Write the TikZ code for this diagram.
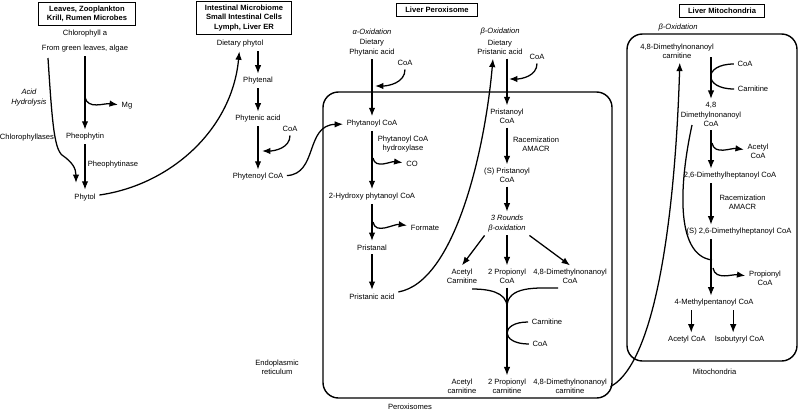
\documentclass[tikz,border=0pt]{standalone}
\usepackage{fontspec}
\setmainfont{Liberation Sans}
\usepackage{tikz}
\usetikzlibrary{arrows.meta, positioning}
\newcommand{\dfont}{\fontsize{5.4}{6.5}\selectfont}
\tikzstyle{hdr} = [draw, rectangle, line width=0.6pt, font=\dfont\bfseries, inner xsep=6pt, inner ysep=2.5pt]
\tikzstyle{ital} = [font=\dfont\itshape]
\tikzstyle{arr} = [->, line width=0.9pt]
\tikzstyle{ln} = [line width=0.9pt]
\tikzstyle{cell} = [line width=1pt, rounded corners=11pt]

\begin{document}
\begin{tikzpicture}[x=0.025cm, y=-0.025cm, >={Latex[length=6pt,width=4.6pt]},
    every node/.style={font=\dfont, align=center, inner sep=2.5pt}]
    \useasboundingbox (0,0) rectangle (800,410);
    \draw [cell] (323,92) rectangle (612,398);
    \draw [cell] (627,34) rectangle (797,361);

    \node [hdr] (leaves) at (87,14) {Leaves, Zooplankton\\Krill, Rumen Microbes};
    \node [hdr] (intest) at (244,18) {Intestinal Microbiome\\Small Intestinal Cells\\Lymph, Liver ER};
    \node [hdr] (lperox) at (437,10) {Liver Peroxisome};
    \node [hdr] (lmito) at (722,11) {Liver Mitochondria};

    \node [] (chl) at (85,34) {Chlorophyll a};
    \node [below of=chl, node distance=0.375cm] (fgl) {From green leaves, algae};
    \node [below of=fgl, node distance=2.2cm] (pheo) {Pheophytin};
    \node [below of=pheo, node distance=1.5cm] (phytol) {Phytol};
    \node [] (mg) at (127,106) {Mg};
    \node [ital] (acid) at (29,97.5) {Acid\\Hydrolysis};
    \node [] (chlase) at (27,138) {Chlorophyllases};
    \node [] (pase) at (113,165) {Pheophytinase};
    \coordinate (ah1) at (48,58);
    \coordinate (ah2) at (76,183);
    \draw [arr] (ah1) .. controls (52,120) and (54,148) .. (62,155) .. controls (72,162) and (76,168) .. (ah2);
    \draw [arr] (fgl) -- (pheo);
    \coordinate (mgb) at (85,97);
    \draw [arr] (mgb) to[out=-80, in=172] (mg);
    \draw [arr] (pheo) -- (phytol);
    \node [] (dphytol) at (240,44) {Dietary phytol};
    \draw [arr] (phytol) .. controls (170,185) and (232,130) .. (dphytol);

    \node [] (phytenal) at (258,81) {Phytenal};
    \node [below of=phytenal, node distance=0.95cm] (phytenic) {Phytenic acid};
    \node [below of=phytenic, node distance=1.45cm] (phytenoyl) {Phytenoyl CoA};
    \node [] (coa1) at (290,129) {CoA};
    \draw [arr] (dphytol.south -| phytenal) -- (phytenal);
    \draw [arr] (phytenal) -- (phytenic);
    \draw [arr] (phytenic) -- (phytenoyl);
    \coordinate (cb1) at (262,151);
    \draw [arr] (coa1) to[out=-90, in=0] (cb1);
    \node [] (er) at (277,367.5) {Endoplasmic\\reticulum};

    \node [] (dphy) at (372,47.5) {Dietary\\Phytanic acid};
    \node [ital, above of=dphy, node distance=0.4cm] (aox) {α-Oxidation};
    \node [below of=dphy, node distance=1.9cm] (phytanoyl) {Phytanoyl CoA};
    \node [below of=phytanoyl, node distance=1.825cm] (hydroxyp) {2-Hydroxy phytanoyl CoA};
    \node [below of=hydroxyp, node distance=1.275cm] (pristanal) {Pristanal};
    \node [below of=pristanal, node distance=1.225cm] (pristanic) {Pristanic acid};
    \node [] (coa2) at (405,63) {CoA};
    \node [] (hydrox) at (403,144) {Phytanoyl CoA\\hydroxylase};
    \node [] (co) at (412,164) {CO};
    \node [] (formate) at (425,228) {Formate};
    \draw [arr] (phytenoyl) .. controls (318,174) and (305,125) .. (phytanoyl);
    \draw [arr] (dphy) -- (phytanoyl);
    \coordinate (cb2) at (375,86);
    \draw [arr] (coa2) to[out=-90, in=0] (cb2);
    \draw [arr] (phytanoyl) -- (hydroxyp);
    \coordinate (cob) at (373,158);
    \draw [arr] (cob) to[out=-80, in=172] (co);
    \draw [arr] (hydroxyp) -- (pristanal);
    \coordinate (fb) at (373,222);
    \draw [arr] (fb) to[out=-80, in=172] (formate);
    \draw [arr] (pristanal) -- (pristanic);

    \node [] (dpri) at (500,47.5) {Dietary\\Pristanic acid};
    \node [ital, above of=dpri, node distance=0.4cm] (box) {β-Oxidation};
    \node [] (coa3) at (537,57) {CoA};
    \node [] (pristanoyl) at (507,116.5) {Pristanoyl\\CoA};
    \node [] (racem1) at (536,144.5) {Racemization\\AMACR};
    \node [below of=pristanoyl, node distance=1.475cm] (spri) {(S) Pristanoyl\\CoA};
    \node [ital, below of=spri, node distance=1.2cm] (rounds) {3 Rounds\\β-oxidation};
    \node [below of=rounds, node distance=1.325cm] (prop2) {2 Propionyl\\CoA};
    \node [left of=prop2, node distance=1.125cm] (acar1) {Acetyl\\Carnitine};
    \node [right of=prop2, node distance=1.575cm] (dmn1) {4,8-Dimethylnonanoyl\\CoA};
    \node [below of=prop2, node distance=2.75cm] (prop3) {2 Propionyl\\carnitine};
    \node [left of=prop3, node distance=1.125cm] (acar2) {Acetyl\\carnitine};
    \node [right of=prop3, node distance=1.575cm] (dmn2) {4,8-Dimethylnonanoyl\\carnitine};
    \node [] (carn1) at (547,322) {Carnitine};
    \node [] (coa4) at (540,344) {CoA};
    \node [] (perox) at (410,407) {Peroxisomes};
    \draw [arr] (pristanic) .. controls (455,282) and (485,150) .. ([xshift=-5pt]dpri.south);
    \draw [arr] (dpri.south -| pristanoyl) -- (pristanoyl);
    \coordinate (cb3) at (509,79);
    \draw [arr] (coa3) to[out=-90, in=0] (cb3);
    \draw [arr] (pristanoyl) -- (spri);
    \draw [arr] (spri) -- (rounds);
    \draw [arr] (rounds.south west) -- (acar1.north);
    \draw [arr] (rounds) -- (prop2);
    \draw [arr] (rounds.south east) -- (dmn1.north);
    \coordinate (mg1) at (472,289);
    \coordinate (mg2) at (558,288);
    \coordinate (mj) at (507,307);
    \draw [ln] (mg1) to[out=0, in=90] (mj);
    \draw [ln] (mg2) to[out=180, in=90] (mj);
    \draw [arr] (prop2) -- (prop3);
    \draw [ln] (carn1.west) .. controls (500,322) and (500,344) .. (coa4.west);

    \node [ital] (mbox) at (678,28) {β-Oxidation};
    \node [] (mcarn) at (677,51.5) {4,8-Dimethylnonanoyl\\carnitine};
    \node [] (mcoa1) at (745,64) {CoA};
    \node [] (mcarnt) at (753,89) {Carnitine};
    \node [] (mdmn) at (711,114.5) {4,8\\Dimethylnonanoyl\\CoA};
    \node [] (macoa) at (758,151.5) {Acetyl\\CoA};
    \node [] (mdmh) at (730,176) {2,6-Dimethylheptanoyl CoA};
    \node [] (racem2) at (742.5,202.5) {Racemization\\AMACR};
    \node [] (msdmh) at (739,232) {(S) 2,6-Dimethylheptanoyl CoA};
    \node [] (mprop) at (765,278.5) {Propionyl\\CoA};
    \node [] (mmp) at (714,303) {4-Methylpentanoyl CoA};
    \node [] (macoa2) at (687,340) {Acetyl CoA};
    \node [] (miso) at (739.5,340) {Isobutyryl CoA};
    \node [] (mito) at (714.5,372) {Mitochondria};
    \draw [arr] (dmn2.east) .. controls (660,360) and (676,190) .. ([xshift=2pt]mcarn.south);
    \coordinate (ma1) at (711,57);
    \draw [arr] (ma1) -- (mdmn);
    \draw [ln] (mcoa1.west) .. controls (703,64) and (703,89) .. (mcarnt.west);
    \draw [arr] (mdmn) -- (mdmh.north -| mdmn);
    \coordinate (ab) at (712,143);
    \draw [arr] (ab) to[out=-80, in=172] (macoa);
    \draw [arr] (mdmh.south -| mdmn) -- (msdmh.north -| mdmn);
    \draw [arr] (msdmh.south -| mdmn) -- (mmp.north -| mdmn);
    \coordinate (pb) at (713,268);
    \draw [arr] (pb) to[out=-80, in=172] (mprop);
    \coordinate (dc1) at (692,125);
    \coordinate (dc2) at (712,260);
    \draw [ln] (dc1) .. controls (680,180) and (674,255) .. (dc2);
    \draw [arr] ([xshift=3pt]mmp.south -| macoa2) -- ([xshift=3pt]macoa2.north);
    \draw [arr] ([xshift=-4.5pt]mmp.south -| miso) -- ([xshift=-4.5pt]miso.north);
\end{tikzpicture}
\end{document}
